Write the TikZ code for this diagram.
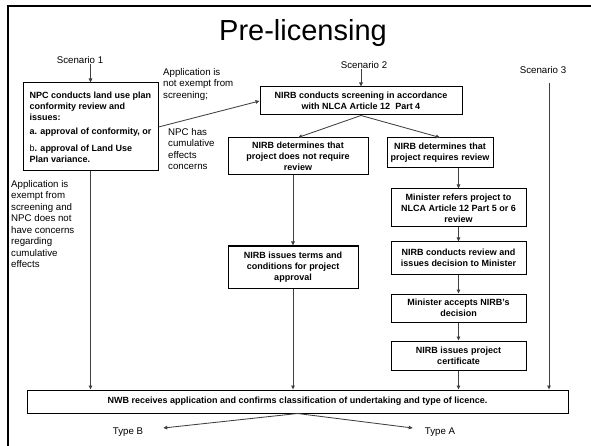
\documentclass[tikz,border=0pt]{standalone}
\usepackage{fontspec}
\setmainfont{Liberation Sans}
\usetikzlibrary{arrows.meta,positioning,calc}
\definecolor{lnk}{HTML}{404040}

\begin{document}
\begin{tikzpicture}[x=1pt,y=-1pt,
    box/.style={draw=black,line width=1pt,fill=white,align=center,inner sep=2pt,
      font=\fontsize{9}{11}\selectfont\bfseries},
    note/.style={align=left,inner sep=0pt,font=\fontsize{9.7}{11.5}\selectfont},
    a/.style={-{Triangle[length=4pt,width=3.6pt]},line width=0.85pt,lnk}]
  \useasboundingbox (0,0) rectangle (591,446);
  \draw[line width=2.6pt] (8,446) |- (591,6);
  \node[font=\fontsize{29}{34}\selectfont] (title) at (303,33) {Pre-licensing};
  % scenario entry points
  \node[note] (sc1) at (80,60) {Scenario 1};
  \node[note] (sc2) at (364,65) {Scenario 2};
  \node[note] (sc3) at (543,70) {Scenario 3};
  \coordinate (s3top) at (549,83);
  % boxes
  \node[box,align=left,minimum width=135pt,minimum height=88pt] (npc) at (90.5,127)
    {NPC conducts land use plan\\conformity review and\\issues:\\[3pt]
     a. approval of conformity, or\\[6pt]\textmd{b}. approval of Land Use\\Plan variance.};
  \node[box,minimum width=202pt,minimum height=28pt] (screen) at (361,101)
    {NIRB conducts screening in accordance\\with NLCA Article 12~ Part 4};
  \node[box,minimum width=140pt,minimum height=37pt] (noreview) at (298,156.5)
    {NIRB determines that\\project does not require\\review};
  \node[box,minimum width=106pt,minimum height=30pt] (review) at (440,153)
    {NIRB determines that\\project requires review};
  \node[box,minimum width=130pt,minimum height=42pt] (terms) at (293,267)
    {NIRB issues terms and\\conditions for project\\approval};
  \node[box,minimum width=135pt,minimum height=38pt] (mref) at (458.5,208)
    {Minister refers project to\\NLCA Article 12 Part 5 or 6\\review};
  \node[box,minimum width=135pt,minimum height=32pt,below=14pt of mref] (mrev)
    {NIRB conducts review and\\issues decision to Minister};
  \node[box,minimum width=135pt,minimum height=28pt,below=19pt of mrev] (macc)
    {Minister accepts NIRB's\\decision};
  \node[box,minimum width=135pt,minimum height=29pt,below=18pt of macc] (cert)
    {NIRB issues project\\certificate};
  \node[box,minimum width=541pt,minimum height=23pt] (nwb) at (297.5,401.5)
    {NWB receives application and confirms classification of undertaking and type of licence.};
  % side notes
  \node[note,anchor=north west] (notexempt) at (163,68)
    {Application is\\not exempt from\\screening;};
  \node[note,anchor=north west] (cumul) at (168,128)
    {NPC has\\cumulative\\effects\\concerns};
  \node[note,anchor=north west] (exempt) at (11,180)
    {Application is\\exempt from\\screening and\\NPC does not\\have concerns\\regarding\\cumulative\\effects};
  \node[note] (typeb) at (128,432) {Type B};
  \node[note] (typea) at (440,432) {Type A};
  % connectors
  \draw[a] (sc1.south -| npc.north) -- (npc.north);
  \draw[a] (sc2.south -| screen.north) -- (screen.north);
  \draw[a] (npc.east) -- (screen.west);
  \draw[a] (screen.south) -- (noreview.north);
  \draw[a] (screen.south) -- (review.north);
  \draw[a] (noreview.south -| terms.north) -- (terms.north);
  \draw[a] (review.south -| mref.north) -- (mref.north);
  \draw[a] (mref) -- (mrev); \draw[a] (mrev) -- (macc); \draw[a] (macc) -- (cert);
  \draw[a] (npc.south) -- (npc.south |- nwb.north);
  \draw[a] (terms.south) -- (terms.south |- nwb.north);
  \draw[a] (cert.south) -- (cert.south |- nwb.north);
  \draw[a] (s3top) -- (s3top |- nwb.north);
  \draw[a] (nwb.south) -- ($(typeb.east)+(20,-4)$);
  \draw[a] (nwb.south) -- ($(typea.west)+(-12,-4)$);
\end{tikzpicture}
\end{document}
